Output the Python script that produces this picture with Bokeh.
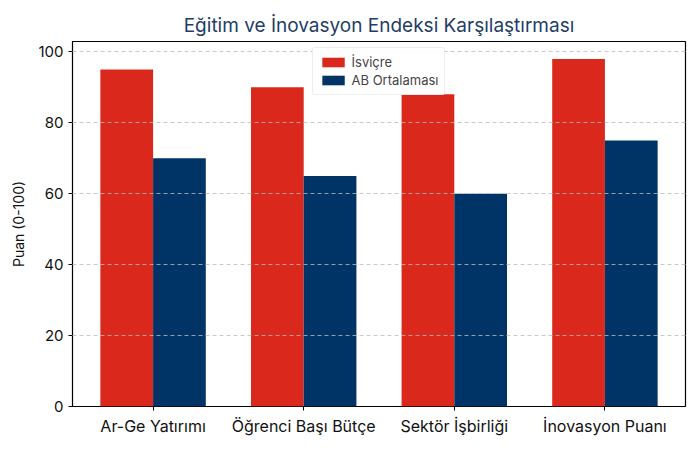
from bokeh.plotting import figure
from bokeh.models import ColumnDataSource, Range1d, FixedTicker, Legend, LegendItem
from bokeh.embed import file_html
from bokeh.resources import INLINE

categories = ["Ar-Ge Yatırımı", "Öğrenci Başı Bütçe", "Sektör İşbirliği", "İnovasyon Puanı"]
isvicre = [95, 90, 88, 98]
ab_ortalamasi = [70, 65, 60, 75]
y_ticks = [0, 20, 40, 60, 80, 100]

FONT = "Inter"
RED = "#DA291C"
NAVY = "#003366"
w = 0.35

xs = list(range(len(categories)))
src = ColumnDataSource(dict(
    x1=[x - w / 2 for x in xs], x2=[x + w / 2 for x in xs],
    a=isvicre, b=ab_ortalamasi))

p = figure(width=692, height=442, output_backend="svg", toolbar_location=None,
           x_range=Range1d(-0.535, 3.535), y_range=Range1d(0, 102.9),
           min_border_left=72, min_border_right=7, min_border_top=41, min_border_bottom=36)

r1 = p.vbar(x="x1", top="a", width=w, source=src, fill_color=RED, line_color=None)
r2 = p.vbar(x="x2", top="b", width=w, source=src, fill_color=NAVY, line_color=None)

p.title.text = "Eğitim ve İnovasyon Endeksi Karşılaştırması"
p.title.align = "center"
p.title.text_font = FONT
p.title.text_font_size = "19px"
p.title.text_font_style = "normal"
p.title.text_color = "#1f3d66"

p.xaxis.ticker = FixedTicker(ticks=xs)
p.xaxis.major_label_overrides = {i: c for i, c in enumerate(categories)}
p.yaxis.ticker = FixedTicker(ticks=y_ticks)
for ax in (p.xaxis[0], p.yaxis[0]):
    ax.major_label_text_font = FONT
    ax.major_label_text_color = "#111111"
    ax.axis_line_color = None
    ax.major_tick_line_color = "black"
    ax.major_tick_in = 0
    ax.major_tick_out = 4
    ax.minor_tick_line_color = None
p.xaxis.major_label_text_font_size = "16px"
p.yaxis.major_label_text_font_size = "15px"
p.yaxis.axis_label = "Puan (0-100)"
p.yaxis.axis_label_text_font = FONT
p.yaxis.axis_label_text_font_size = "14px"
p.yaxis.axis_label_text_font_style = "normal"
p.yaxis.axis_label_text_color = "#111111"
p.yaxis.axis_label_standoff = 8

p.xgrid.grid_line_color = None
p.ygrid.grid_line_color = "#bbbbbb"
p.ygrid.grid_line_alpha = 0.8
p.ygrid.grid_line_dash = "4 3"
p.ygrid.level = "guide"

p.outline_line_color = "black"
p.outline_line_width = 1.2

legend = Legend(items=[LegendItem(label="İsviçre", renderers=[r1]),
                       LegendItem(label="AB Ortalaması", renderers=[r2])],
                location="top_center")
legend.label_text_font = FONT
legend.label_text_font_size = "13px"
legend.glyph_width = 28
legend.glyph_height = 12
legend.spacing = 2
legend.padding = 6
legend.margin = 6
legend.border_line_color = "#dddddd"
legend.border_radius = 3
legend.background_fill_alpha = 0.9
p.add_layout(legend)

open("out.html", "w").write(file_html(p, INLINE))
